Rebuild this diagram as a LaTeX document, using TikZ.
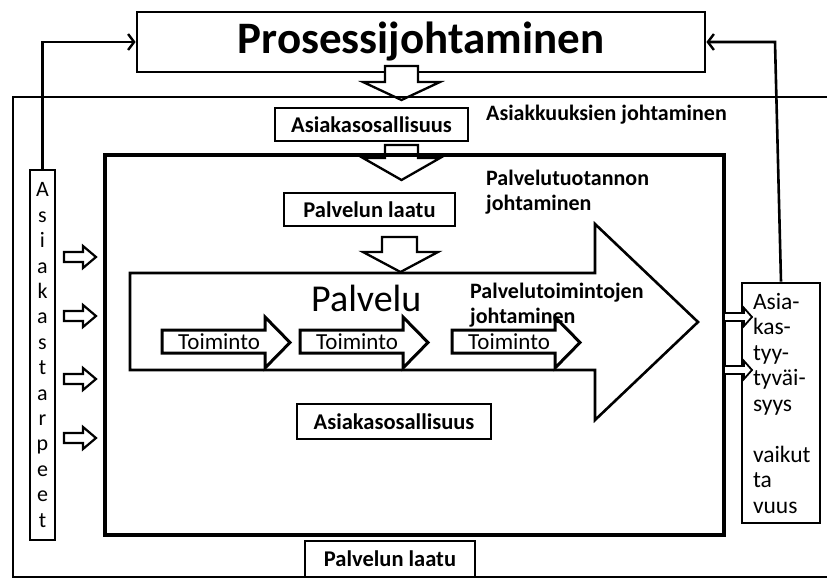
\documentclass[tikz,border=0pt]{standalone}
\usepackage{fontspec}
\setmainfont{Carlito}
\usetikzlibrary{arrows.meta}

\tikzset{
  textlbl/.style={font=\bfseries\fontsize{22}{25}\selectfont, inner sep=0pt},
  smallbox/.style={draw, fill=white, line width=1.6pt, inner sep=0pt,
    font=\bfseries\fontsize{22.5}{25}\selectfont},
  hollow/.style={draw, fill=white, line width=2.3pt, line join=miter},
  feedback/.style={line width=2.6pt, -{Straight Barb[length=6pt,width=16pt,line width=2.4pt]}},
}

\begin{document}
\begin{tikzpicture}[x=1pt,y=-1pt]
    \useasboundingbox (0,0) rectangle (827,579);

    % top box and the way back to it
    \node[draw, line width=2.8pt, minimum width=568pt, minimum height=60pt,
      font=\bfseries\fontsize{45}{50}\selectfont] (proc) at (421,42) {Prosessijohtaminen};

    % hollow arrows going down
    \draw[hollow] (385,66) -- (385,82) -- (363,82) -- (401.5,100) -- (440,82) -- (418,82) -- (418,66) -- cycle;
    \draw[hollow] (385,145) -- (385,158) -- (363,158) -- (401.5,180) -- (440,158) -- (418,158) -- (418,145) -- cycle;
    \draw[hollow] (382,237) -- (382,252) -- (363,252) -- (400.5,272) -- (438,252) -- (417,252) -- (417,237) -- cycle;

    % frames
    \draw[line width=2.6pt] (827,97) -- (13,97) -- (13,577) -- (827,577);
    \node[draw, line width=4.8pt, minimum width=619pt, minimum height=380pt] (palvfr) at (414.5,345) {};

    % the big arrow
    \draw[hollow, line width=2.6pt] (130,273) -- (595,273) -- (595,224) -- (698,322) -- (595,420) -- (595,370) -- (130,370) -- cycle;
    \node[font=\fontsize{38}{40}\selectfont, inner sep=0pt, anchor=west] (palv) at (311,298) {Palvelu};

    \foreach \x/\n in {162/1,300/2,452/3} {
        \draw[hollow, line width=3pt] (\x,330) -- (\x+103,330) -- (\x+103,317) -- (\x+128,342.5)
            -- (\x+103,368) -- (\x+103,353) -- (\x,353) -- cycle;
        \node[font=\fontsize{23}{25}\selectfont, inner sep=0pt, anchor=west] (toim\n) at (\x+16,342) {Toiminto};
    }

    % boxes
    \node[smallbox, minimum width=193pt, minimum height=33pt] (asos1) at (371.5,124.5) {Asiakasosallisuus};
    \node[smallbox, minimum width=171pt, minimum height=33pt] (laatu1) at (369.5,209.5) {Palvelun laatu};
    \node[smallbox, minimum width=194pt, minimum height=35pt] (asos2) at (394,421.5) {Asiakasosallisuus};
    \node[smallbox, minimum width=170pt, minimum height=36pt] (laatu2) at (390,559) {Palvelun laatu};

    \node[textlbl, anchor=west] (asjoht) at (486,115) {Asiakkuuksien johtaminen};
    \node[textlbl, anchor=north west, align=left] (tuotjoht) at (486,170) {Palvelutuotannon\\johtaminen};
    \node[textlbl, anchor=north west, align=left] (toimjoht) at (470,283) {Palvelutoimintojen\\johtaminen};

    % left side
    \node[draw, line width=2.6pt, minimum width=25pt, minimum height=370pt, inner sep=0pt, align=center,
      font=\fontsize{22}{25.4}\selectfont] (tarpeet) at (42.5,355)
      {A\\s\\i\\a\\k\\a\\s\\t\\a\\r\\p\\e\\e\\t};
    \foreach \y in {257,316,379,438}
        \draw[hollow, line width=2.2pt] (64,\y-5) -- (83,\y-5) -- (83,\y-11) -- (96,\y)
            -- (83,\y+11) -- (83,\y+5) -- (64,\y+5) -- cycle;

    % right side
    \node[draw, fill=white, line width=2.6pt, minimum width=78pt, minimum height=240pt, inner xsep=11pt,
      text width=56pt, align=left, font=\fontsize{23.5}{25.5}\selectfont] (tyyt) at (781,403)
      {Asia-\\kas-\\tyy-\\tyväi-\\syys\\[25.5pt]vaikut\\ta\\vuus};
    \foreach \y in {317,370}
        \draw[hollow, line width=1.8pt] (724,\y-4) -- (744,\y-4) -- (744,\y-9) -- (752,\y)
            -- (744,\y+9) -- (744,\y+4) -- (724,\y+4) -- cycle;

    \coordinate (tyytcorner) at (775,42);
    \draw[feedback] (tarpeet.north) |- (proc.west);
    \draw[feedback] (tyyt.north) -- (tyytcorner) -- (proc.east);
\end{tikzpicture}
\end{document}
